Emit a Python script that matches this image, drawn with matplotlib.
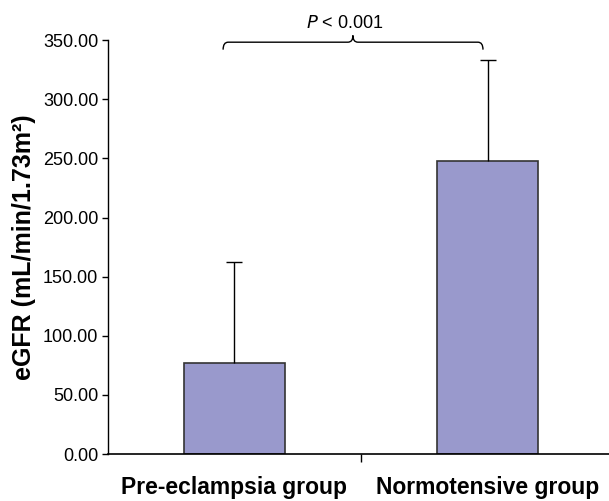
import matplotlib.pyplot as plt
import matplotlib.patches as mpatches
from matplotlib.path import Path
import matplotlib.transforms as mtransforms

plt.rcParams['font.family'] = ['Liberation Sans', 'DejaVu Sans']

groups = ['Pre-eclampsia group', 'Normotensive group']
means = [77.0, 248.0]
sds = [85.0, 85.0]
yticks = [0, 50, 100, 150, 200, 250, 300, 350]

fig = plt.figure(figsize=(6.09, 5.01), dpi=100)
ax = fig.add_axes([0.1773, 0.0938, 0.8227, 0.826])

x = list(range(len(groups)))
ax.bar(x, means, width=0.4, color='#9999cc', edgecolor='#333333', linewidth=1.2, zorder=2)
eb = ax.errorbar(x, means, yerr=[[0, 0], sds], fmt='none', ecolor='black',
                 elinewidth=1, capsize=6, capthick=1, zorder=3)
eb[1][0].set_visible(False)  # lower caps hidden

ax.set_xlim(-0.5, 1.48)
ax.set_ylim(0, 350)
ax.set_yticks(yticks)
ax.set_yticklabels([f'{v:.2f}' for v in yticks], fontsize=13)
ax.set_xticks([0.5])
ax.set_xticklabels([''])
ax.tick_params(axis='x', direction='out', length=6, width=1)
ax.tick_params(axis='y', direction='out', length=4, width=1, pad=3)
ax.spines['top'].set_visible(False)
ax.spines['right'].set_visible(False)
ax.spines['left'].set_linewidth(1)
ax.spines['bottom'].set_linewidth(1.2)

ax.set_ylabel('eGFR (mL/min/1.73m²)', fontsize=18, fontweight='bold', labelpad=5)

trans = mtransforms.blended_transform_factory(ax.transData, ax.transAxes)
for xi, g in zip(x, groups):
    ax.text(xi, -0.097, g, transform=trans, ha='center', va='baseline',
            fontsize=16.5, fontweight='bold')

# significance brace
x0, x1 = -0.045, 0.982
xm = 0.468
yb, yl, yp = 342, 348.3, 354
r = 0.02
verts = [
    (x0, yb), (x0, yl), (x0 + r, yl),
    (xm - r, yl), (xm, yl), (xm, yp),
    (xm, yl), (xm + r, yl),
    (x1 - r, yl), (x1, yl), (x1, yb),
]
codes = [Path.MOVETO, Path.CURVE3, Path.CURVE3,
         Path.LINETO, Path.CURVE3, Path.CURVE3,
         Path.CURVE3, Path.CURVE3,
         Path.LINETO, Path.CURVE3, Path.CURVE3]
brace = mpatches.PathPatch(Path(verts, codes), fill=False, lw=1, color='black', clip_on=False)
ax.add_patch(brace)
ax.text(0.437, 360, r'$\it{P}$ < 0.001', ha='center', va='baseline', fontsize=13, clip_on=False)

fig.savefig('out.png', dpi=100)
